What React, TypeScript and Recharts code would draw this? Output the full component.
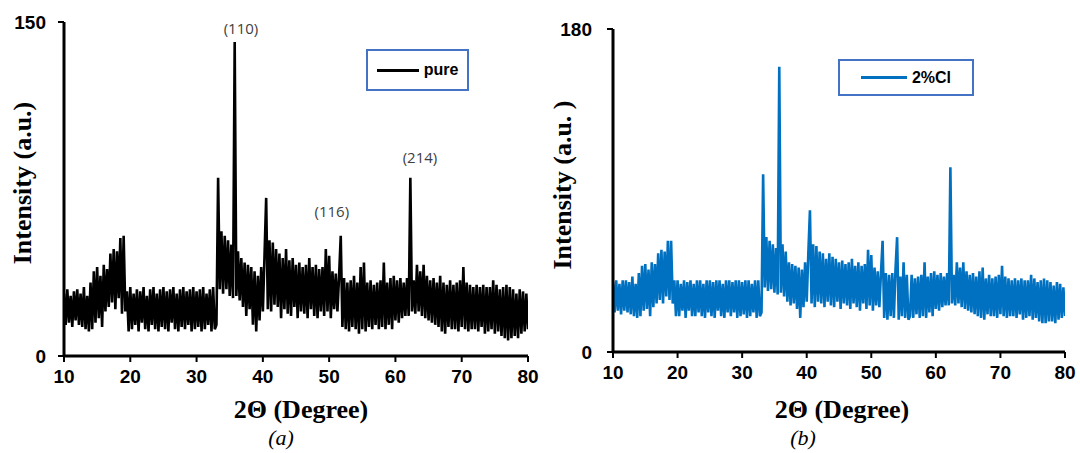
import { LineChart, Line, XAxis, YAxis, Legend, ReferenceDot } from "recharts";

// 2θ sampling grid of both scans (degrees)
const ANGLE_START = 10;
const ANGLE_STEP = 0.25;

const angleTicks = [10, 20, 30, 40, 50, 60, 70, 80];

// (a) pure sample, one value per 0.25°
const pureIntensity = [
  // 10-19
  28, 14, 30, 15, 27, 13, 29, 16, 30, 14, 28, 13, 31, 12, 27, 11, 33, 12, 38, 15,
  40, 17, 36, 13, 41, 20, 39, 22, 46, 24, 48, 21, 47, 26, 53, 19, 54, 20, 29, 11,
  // 20-29
  31, 12, 28, 14, 30, 11, 29, 15, 31, 12, 27, 11, 30, 14, 31, 12, 28, 11, 30, 13,
  31, 12, 29, 11, 30, 15, 31, 12, 28, 11, 30, 13, 31, 12, 29, 14, 30, 11, 31, 12,
  // 30-39
  29, 13, 30, 11, 31, 12, 28, 14, 30, 11, 31, 12, 14, 80, 30, 56, 28, 54, 30, 52,
  27, 50, 26, 141, 27, 47, 25, 44, 22, 42, 18, 41, 21, 40, 14, 38, 11, 36, 16, 40,
  // 40-49
  20, 45, 71, 21, 52, 20, 51, 23, 48, 22, 46, 17, 44, 21, 48, 19, 43, 18, 44, 22,
  41, 17, 42, 20, 40, 19, 41, 17, 44, 21, 40, 18, 41, 17, 39, 20, 40, 18, 48, 20,
  // 50-59
  45, 17, 38, 21, 37, 20, 36, 54, 13, 35, 12, 33, 11, 34, 13, 36, 12, 33, 10, 40,
  12, 42, 11, 33, 13, 34, 12, 32, 14, 33, 12, 34, 13, 42, 12, 33, 14, 35, 12, 36,
  // 60-69
  16, 34, 15, 35, 17, 33, 18, 35, 18, 80, 20, 34, 19, 41, 20, 38, 18, 41, 17, 36,
  16, 34, 15, 35, 14, 33, 13, 36, 11, 33, 10, 32, 13, 34, 12, 32, 12, 33, 11, 34,
  // 70-79
  13, 40, 12, 33, 11, 32, 12, 31, 12, 32, 11, 31, 13, 32, 10, 31, 11, 31, 12, 34,
  10, 32, 11, 30, 9, 31, 8, 32, 7, 31, 8, 30, 9, 28, 8, 30, 10, 29, 11, 28,
  // 80
  12,
];

// (b) 2% Cl sample
const clIntensity = [
  // 10-19
  39, 22, 40, 23, 38, 21, 40, 23, 40, 22, 39, 21, 42, 20, 38, 19, 44, 20, 48, 23,
  49, 24, 46, 20, 50, 25, 49, 27, 55, 29, 57, 27, 56, 31, 62, 29, 62, 27, 40, 20,
  // 20-29
  40, 20, 38, 23, 40, 19, 39, 23, 40, 20, 38, 20, 40, 22, 40, 20, 38, 19, 40, 22,
  40, 20, 39, 19, 40, 23, 40, 20, 38, 19, 40, 22, 40, 20, 39, 22, 40, 19, 40, 20,
  // 30-39
  39, 21, 40, 19, 40, 20, 38, 22, 40, 19, 40, 20, 22, 99, 36, 64, 34, 62, 35, 60,
  33, 58, 32, 159, 33, 60, 31, 56, 28, 50, 26, 49, 27, 48, 24, 47, 19, 46, 25, 50,
  // 40-49
  28, 55, 79, 27, 60, 25, 59, 28, 56, 27, 55, 25, 52, 28, 55, 26, 53, 25, 52, 28,
  50, 24, 51, 27, 49, 26, 50, 24, 52, 27, 48, 25, 50, 23, 48, 27, 49, 24, 57, 26,
  // 50-59
  54, 23, 47, 26, 45, 25, 44, 62, 19, 44, 18, 43, 20, 44, 19, 46, 64, 18, 42, 20,
  50, 19, 43, 18, 20, 43, 19, 41, 21, 42, 19, 43, 20, 50, 19, 42, 22, 44, 20, 45,
  // 60-69
  24, 43, 23, 44, 25, 42, 26, 44, 26, 103, 27, 43, 26, 50, 27, 47, 25, 50, 24, 45,
  23, 43, 22, 44, 21, 42, 20, 45, 19, 47, 18, 41, 21, 43, 20, 41, 20, 42, 19, 43,
  // 70-79
  21, 48, 20, 42, 19, 41, 20, 40, 20, 41, 19, 40, 21, 41, 18, 40, 19, 40, 20, 43,
  18, 41, 19, 39, 17, 40, 16, 41, 16, 40, 17, 39, 17, 37, 16, 39, 18, 38, 19, 36,
  // 80
  20,
];

// Miller index labels on panel (a): where the text sits, in data units
const pureAnnotations = [
  { label: "(110)", angle: 36.7, intensity: 147 },
  { label: "(116)", angle: 50.4, intensity: 65 },
  { label: "(214)", angle: 63.7, intensity: 89 },
];

const toRows = (values: number[]) =>
  values.map((v, i) => ({ angle: ANGLE_START + i * ANGLE_STEP, intensity: v }));

const pureData = toRows(pureIntensity);
const clData = toRows(clIntensity);

const tickFont = {
  fill: "#000",
  fontSize: 19,
  fontWeight: 700,
  fontFamily: "'Liberation Sans', Arial, sans-serif",
};

const titleStyle: React.CSSProperties = {
  position: "absolute",
  fontFamily: "'Liberation Serif', 'Times New Roman', serif",
  fontWeight: 700,
  fontSize: 26,
  color: "#000",
  whiteSpace: "nowrap",
  lineHeight: 1,
};

type LegendBoxProps = {
  payload?: { value: string; color?: string }[];
  lineWidth: number;
};

function LegendBox({ payload, lineWidth }: LegendBoxProps) {
  const item = payload?.[0];
  if (!item) return null;
  return (
    <div
      style={{
        boxSizing: "border-box",
        width: "100%",
        height: "100%",
        border: "2px solid #4472C4",
        display: "flex",
        alignItems: "center",
        justifyContent: "center",
        gap: 5,
        background: "#fff",
      }}
    >
      <span style={{ width: lineWidth, height: 3, background: item.color }} />
      <span
        style={{
          fontFamily: "'Liberation Sans', Arial, sans-serif",
          fontWeight: 700,
          fontSize: 16,
          color: "#000",
        }}
      >
        {item.value}
      </span>
    </div>
  );
}

type PanelProps = {
  data: { angle: number; intensity: number }[];
  name: string;
  color: string;
  yMax: number;
  plotLeft: number;
  plotRight: number;
  plotTop: number;
  plotBottom: number;
  yTickGap: number;
  legendBox: { left: number; top: number; width: number; height: number; line: number };
  annotations?: { label: string; angle: number; intensity: number }[];
};

const PANEL_W = 540;
const PANEL_H = 453;

function XrdPanel(p: PanelProps) {
  return (
    <LineChart
      width={PANEL_W}
      height={PANEL_H}
      data={p.data}
      margin={{ top: p.plotTop, right: PANEL_W - p.plotRight, bottom: 0, left: 0 }}
    >
      <XAxis
        type="number"
        dataKey="angle"
        domain={[10, 80]}
        ticks={angleTicks}
        allowDataOverflow
        height={PANEL_H - p.plotBottom}
        axisLine={{ stroke: "#000", strokeWidth: 3 }}
        tickLine={{ stroke: "#000", strokeWidth: 2 }}
        tickSize={6}
        tickMargin={8}
        tick={tickFont}
      />
      <YAxis
        type="number"
        domain={[0, p.yMax]}
        ticks={[0, p.yMax]}
        allowDataOverflow
        width={p.plotLeft}
        axisLine={{ stroke: "#000", strokeWidth: 3 }}
        tickLine={{ stroke: "#000", strokeWidth: 2 }}
        tickSize={6}
        tickMargin={p.yTickGap}
        tick={tickFont}
      />
      <Legend
        layout="vertical"
        verticalAlign="middle"
        align="center"
        wrapperStyle={{
          left: p.legendBox.left,
          top: p.legendBox.top,
          width: p.legendBox.width,
          height: p.legendBox.height,
        }}
        content={(props: any) => <LegendBox payload={props.payload} lineWidth={p.legendBox.line} />}
      />
      <Line
        type="linear"
        dataKey="intensity"
        name={p.name}
        stroke={p.color}
        strokeWidth={2.6}
        strokeLinejoin="miter"
        dot={false}
        isAnimationActive={false}
      />
      {(p.annotations || []).map((a) => (
        <ReferenceDot
          key={a.label}
          x={a.angle}
          y={a.intensity}
          r={0}
          fill="none"
          stroke="none"
          label={{
            value: a.label,
            position: "center",
            fill: "#404040",
            fontSize: 15,
            fontFamily: "'Open Sans', 'Noto Sans', sans-serif",
          }}
        />
      ))}
    </LineChart>
  );
}

export default function App() {
  return (
    <div
      style={{
        position: "absolute",
        left: 0,
        top: 0,
        width: 1080,
        height: 453,
        background: "#fff",
        overflow: "hidden",
      }}
    >
      <div style={{ position: "absolute", left: 0, top: 0 }}>
        <XrdPanel
          data={pureData}
          name="pure"
          color="#000000"
          yMax={150}
          plotLeft={64}
          plotRight={528}
          plotTop={22}
          plotBottom={356}
          yTickGap={12}
          legendBox={{ left: 366, top: 49, width: 103, height: 42, line: 42 }}
          annotations={pureAnnotations}
        />
      </div>
      <div style={{ position: "absolute", left: PANEL_W, top: 0 }}>
        <XrdPanel
          data={clData}
          name="2%Cl"
          color="#0070C0"
          yMax={180}
          plotLeft={73}
          plotRight={525}
          plotTop={29}
          plotBottom={352}
          yTickGap={15}
          legendBox={{ left: 298, top: 59, width: 136, height: 37, line: 46 }}
        />
      </div>

      {/* axis titles and panel captions */}
      <div style={{ ...titleStyle, left: 23, top: 183, transform: "translate(-50%, -50%) rotate(-90deg)" }}>
        Intensity (a.u.)
      </div>
      <div style={{ ...titleStyle, left: 563, top: 185, transform: "translate(-50%, -50%) rotate(-90deg)" }}>
        Intensity (a.u. )
      </div>
      <div style={{ ...titleStyle, left: 301, top: 410, transform: "translate(-50%, -50%)" }}>
        2Θ (Degree)
      </div>
      <div style={{ ...titleStyle, left: 842, top: 410, transform: "translate(-50%, -50%)" }}>
        2Θ (Degree)
      </div>
      <div
        style={{
          ...titleStyle,
          fontWeight: 400,
          fontStyle: "italic",
          fontSize: 22,
          left: 281,
          top: 438,
          transform: "translate(-50%, -50%)",
        }}
      >
        (a)
      </div>
      <div
        style={{
          ...titleStyle,
          fontWeight: 400,
          fontStyle: "italic",
          fontSize: 22,
          left: 803,
          top: 438,
          transform: "translate(-50%, -50%)",
        }}
      >
        (b)
      </div>
    </div>
  );
}
